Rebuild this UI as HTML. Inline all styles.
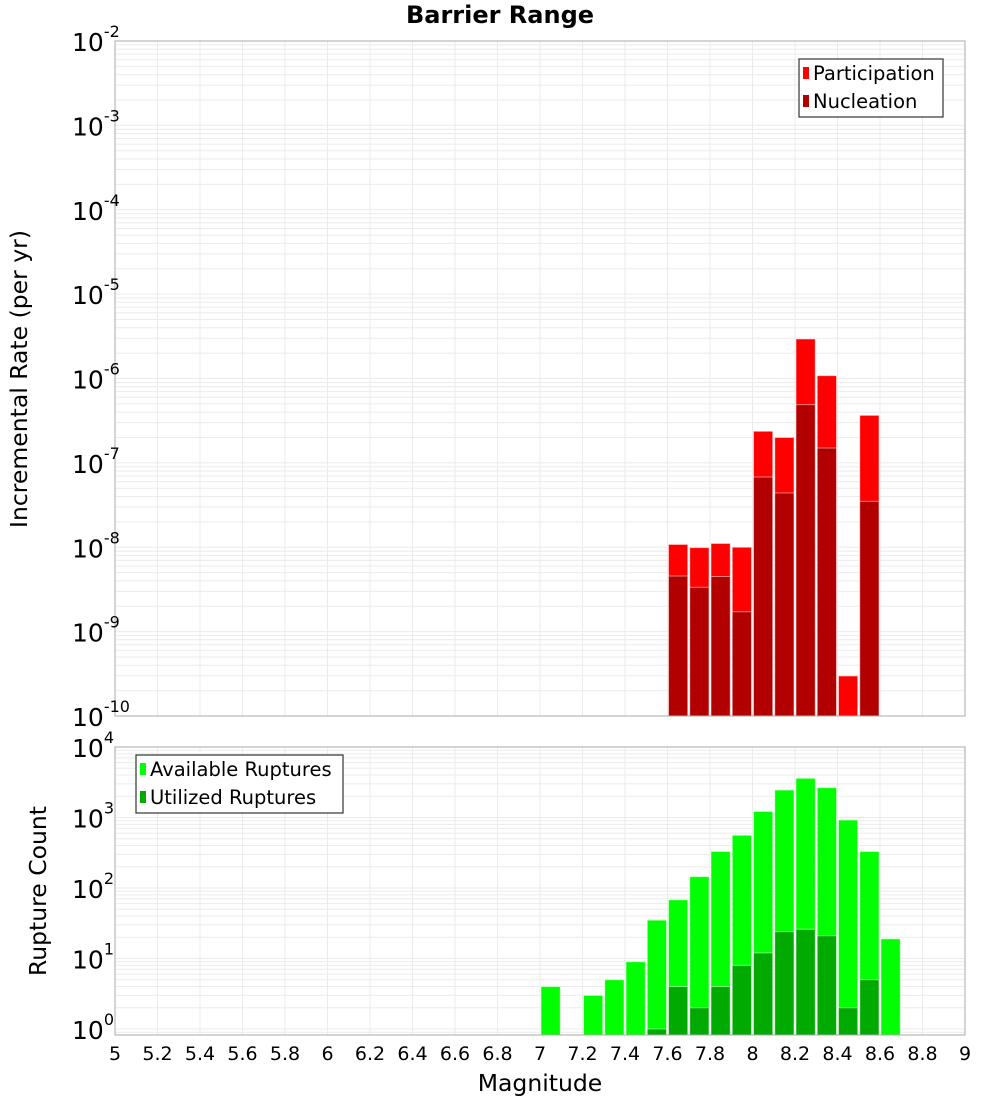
<!DOCTYPE html>
<html><head><meta charset="utf-8"><style>
body{margin:0;background:#fff}
svg text{font-family:"DejaVu Sans","Liberation Sans",sans-serif}
</style></head><body>
<svg id="chart" width="1000" height="1100" xmlns="http://www.w3.org/2000/svg"></svg>
<script>
const mags = [7.0,7.1,7.2,7.3,7.4,7.5,7.6,7.7,7.8,7.9,8.0,8.1,8.2,8.3,8.4,8.5,8.6];
const participation = [0,0,0,0,0,0,1.08e-8,9.9e-9,1.11e-8,1.0e-8,2.37e-7,2.0e-7,2.94e-6,1.08e-6,2.98e-10,3.66e-7,0];
const nucleation = [0,0,0,0,0,0,4.56e-9,3.35e-9,4.5e-9,1.72e-9,6.8e-8,4.4e-8,4.9e-7,1.5e-7,0,3.5e-8,0];
const available = [4,0,3,5,9,35,68,145,330,560,1220,2450,3600,2650,920,330,19];
const utilized = [0,0,0,0,0,1,4,2,4,8,12,24,26,21,2,5,0];
const xTicks = [5,5.2,5.4,5.6,5.8,6,6.2,6.4,6.6,6.8,7,7.2,7.4,7.6,7.8,8,8.2,8.4,8.6,8.8,9];
const topExps = [-2,-3,-4,-5,-6,-7,-8,-9,-10];
const botExps = [4,3,2,1,0];

const NS="http://www.w3.org/2000/svg";
const svg=document.getElementById('chart');
function el(tag,attrs,parent){const e=document.createElementNS(NS,tag);for(const k in attrs)e.setAttribute(k,attrs[k]);(parent||svg).appendChild(e);return e;}
const X0=115,X1=965;
const xs=m=>X0+(m-5)/4*(X1-X0);
const T={top:41,bot:716,lmin:-10,lmax:-2};
const ysT=v=>T.bot-(Math.log10(v)-T.lmin)/(T.lmax-T.lmin)*(T.bot-T.top);
const B={top:747,bot:1035};
const B0=1029, Bdec=70.5;
const ysB=v=>B0-Math.log10(v)*Bdec;

function grid(ax,ys,lo,hi,name){
  const g=el('g',{});
  
  
  for(let e=lo;e<hi;e++)for(let k=1;k<10;k++){
    const y=ys(k*Math.pow(10,e));
    if(y<ax.top-0.5||y>ax.bot+0.5)continue;
    el('line',{x1:X0,x2:X1,y1:y,y2:y,stroke:'#ebebeb','stroke-width':1},g);
  }
  for(const t of xTicks){const x=xs(t);el('line',{x1:x,x2:x,y1:ax.top,y2:ax.bot,stroke:'#ebebeb','stroke-width':1},g);}
}
grid(T,ysT,-10,-2,'top-grid');
grid(B,ysB,-1,4,'bottom-grid');

function bars(vals,ys,ax,color,name){
  const g=el('g',{});
  
  
  vals.forEach((v,i)=>{
    if(!(v>0))return;
    const x=xs(mags[i])+1,w=xs(mags[i]+0.1)-xs(mags[i])-2;
    const y=Math.max(ys(v),ax.top);
    const r=el('rect',{x:x,y:y,width:w,height:ax.bot-y,fill:color,stroke:'rgba(255,255,255,0.5)','stroke-width':1},g);
    
    
  });
}
bars(participation,ysT,T,'#ff0000','participation');
bars(nucleation,ysT,T,'#b20000','nucleation');
bars(available,ysB,B,'#00ff00','available-ruptures');
bars(utilized,ysB,B,'#00aa00','utilized-ruptures');

el('rect',{x:X0,y:T.top,width:X1-X0,height:T.bot-T.top,fill:'none',stroke:'#aaa','stroke-width':1});
el('rect',{x:X0,y:B.top,width:X1-X0,height:B.bot-B.top,fill:'none',stroke:'#aaa','stroke-width':1});

function powLabel(e,y,name){
  const t=el('text',{x:72,y:y+10,'text-anchor':'start','font-size':25,fill:'#000'});
  
  
  const a=el('tspan',{},t);a.textContent='10';
  const b=el('tspan',{dy:-14,'font-size':16},t);b.textContent=String(e);
}
topExps.forEach(e=>powLabel(e,ysT(Math.pow(10,e)),'y-tick-top'));
botExps.forEach(e=>powLabel(e,ysB(Math.pow(10,e)),'y-tick-bottom'));
xTicks.forEach(t=>{
  const tx=el('text',{x:xs(t),y:1060,'text-anchor':'middle','font-size':19,fill:'#000'});
  tx.textContent=String(t);
  
  
});
function txt(s,attrs,name){const t=el('text',attrs);t.textContent=s;return t;}
txt('Barrier Range',{x:500,y:23,'text-anchor':'middle','font-size':24,'font-weight':'bold'},'chart-title');
txt('Magnitude',{x:540,y:1091,'text-anchor':'middle','font-size':23.5},'x-axis-title');
txt('Incremental Rate (per yr)',{x:0,y:0,'text-anchor':'middle','font-size':23.5,transform:'translate(27,379) rotate(-90)'},'y-axis-title-top');
txt('Rupture Count',{x:0,y:0,'text-anchor':'middle','font-size':23.5,transform:'translate(46,891) rotate(-90)'},'y-axis-title-bottom');

function legend(x,y,w,h,items,name){
  const g=el('g',{});
  
  
  el('rect',{x:x,y:y,width:w,height:h,fill:'#fff',stroke:'#333','stroke-width':1.2},g);
  items.forEach((it,i)=>{
    const cy=y+14+i*28;
    el('rect',{x:x+4,y:cy-6,width:6,height:12,fill:it[1]},g);
    const t=el('text',{x:x+14,y:cy+7,'font-size':19.5,fill:'#000'},g);t.textContent=it[0];
    
    
  });
}
legend(799,59,144,58,[['Participation','#ff0000'],['Nucleation','#b20000']],'top-legend');
legend(136,755,207,58,[['Available Ruptures','#00ff00'],['Utilized Ruptures','#00aa00']],'bottom-legend');
</script>
</body></html>
